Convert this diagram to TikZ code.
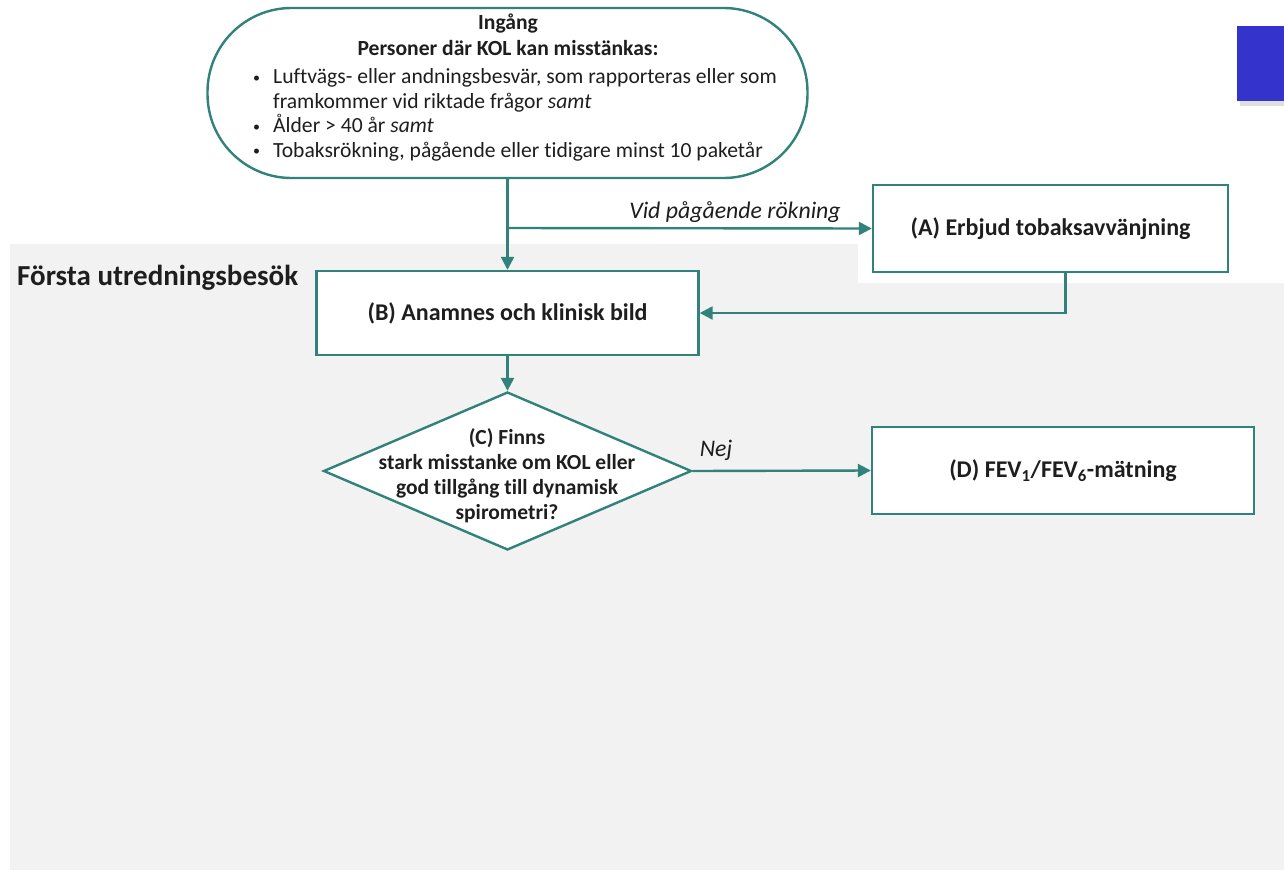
\documentclass[tikz,border=0pt]{standalone}
\usepackage{fontspec}
\setmainfont{Carlito}[Ligatures=NoCommon]
\usetikzlibrary{arrows.meta,shapes.geometric}
\definecolor{flowteal}{HTML}{31827A}
\definecolor{ink}{HTML}{1E1E1E}
\definecolor{bggrey}{HTML}{F2F2F2}
\definecolor{slideblue}{HTML}{3434CC}
\newcommand{\bulletline}{\makebox[20pt][l]{\raisebox{1.5pt}{\scalebox{0.65}{\textbullet}}}}
\begin{document}
\begin{tikzpicture}[x=1pt,y=-1pt,
  outline/.style={draw=flowteal,line width=2.4pt,fill=white,inner sep=0pt},
  stepbox/.style={outline,rectangle},
  conn/.style={draw=flowteal,line width=2.4pt,-{Triangle[length=13pt,width=13pt]}},
  boxtext/.style={font=\fontsize{24}{28}\selectfont\bfseries,text=ink,align=center},
  note/.style={font=\fontsize{23.8}{28}\selectfont\itshape,text=ink},
]
\useasboundingbox (0,0) rectangle (1284,870);

% grey band of the first visit, with the white notch behind box A
\fill[bggrey] (10,244) rectangle (1284,870);
\fill[white] (858,244) rectangle (1284,283);

% blue tab in the corner with its drop shadow
\fill[black!25,opacity=0.5] (1240,31) rectangle (1284,106);
\fill[slideblue] (1237,26) rectangle (1284,101);

% entry terminal
\node[outline,rounded corners=84pt,minimum width=600pt,minimum height=170pt] (entry) at (507.5,93) {};
\node[font=\fontsize{21.6}{26}\selectfont\bfseries,text=ink,align=center,anchor=base] (entryhead) at (508,55)
  {Ingång\\Personer där KOL kan misstänkas:};
\node[font=\fontsize{21.6}{24.5}\selectfont,text=ink,align=left,anchor=base west,inner sep=0pt] (entrylist) at (253,157)
  {\bulletline Luftvägs- eller andningsbesvär, som rapporteras eller som\\
   \hspace*{20pt}framkommer vid riktade frågor \textit{samt}\\
   \bulletline Ålder > 40 år \textit{samt}\\
   \bulletline Tobaksrökning, pågående eller tidigare minst 10 paketår};

% section title
\node[font=\fontsize{29}{34}\selectfont\bfseries,text=ink,anchor=base west,inner sep=0pt] (visit) at (17,285) {Första utredningsbesök};

% process boxes
\node[stepbox,minimum width=355pt,minimum height=87pt] (A) at (1050.5,228.5) {};
\node[boxtext] (Atext) at (A.center) {(A) Erbjud tobaksavvänjning};
\node[stepbox,minimum width=382pt,minimum height=84pt] (B) at (507.5,313) {};
\node[boxtext] (Btext) at (B.center) {(B) Anamnes och klinisk bild};
\node[outline,diamond,minimum width=368pt,minimum height=158pt] (C) at (507.5,471) {};
\node[font=\fontsize{21.5}{25}\selectfont\bfseries,text=ink,align=center,anchor=base] (Ctext) at (507,519)
  {(C) Finns\\stark misstanke om KOL eller\\god tillgång till dynamisk\\spirometri?};
\node[stepbox,minimum width=382pt,minimum height=87pt] (D) at (1063,470.5) {};
\node[boxtext] (Dtext) at (D.center) {(D) FEV\textsubscript{1}/FEV\textsubscript{6}-mätning};

% connectors
\coordinate (split) at (507.5,228);
\draw[conn] (entry.south) -- (B.north);
\draw[conn] (split) -- (A.west);
\node[note,anchor=base] (smoking) at (735,218) {Vid pågående rökning};
\draw[conn] ([xshift=15pt]A.south) |- (B.east);
\draw[conn] (B.south) -- (C.north);
\draw[conn] (C.east) -- (D.west);
\node[note,anchor=base] (nej) at (716,456) {Nej};
\end{tikzpicture}
\end{document}
